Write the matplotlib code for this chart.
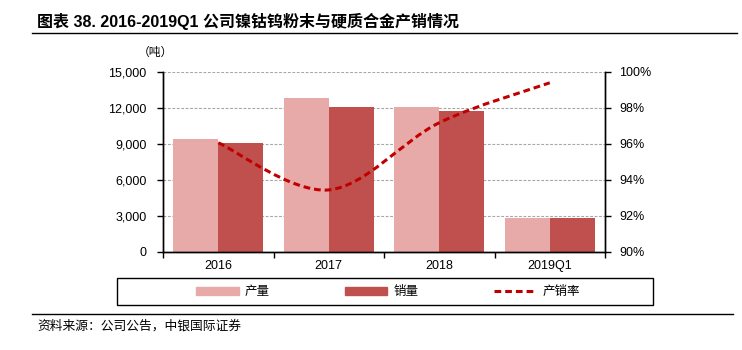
import matplotlib
matplotlib.use('Agg')
import matplotlib.pyplot as plt
import numpy as np
from matplotlib.path import Path
from matplotlib.patches import PathPatch, Rectangle, Patch
from matplotlib.lines import Line2D
from matplotlib.ticker import FuncFormatter, MultipleLocator

plt.rcParams['font.family'] = ['Liberation Sans', 'Noto Sans CJK SC', 'DejaVu Sans']

# data
categories = ['2016', '2017', '2018', '2019Q1']
production = [9450, 12850, 12050, 2850]   # 产量 (吨)
sales = [9050, 12050, 11750, 2840]        # 销量 (吨)
rate = [96.07, 93.45, 97.18, 99.40]       # 产销率 (%)

c_prod = '#E8AAA9'
c_sales = '#C0504D'
c_line = '#C00000'
cjk = ['Noto Sans CJK SC', 'DejaVu Sans']

W, H = 742, 350
fig = plt.figure(figsize=(W / 100, H / 100), dpi=100)
ax = fig.add_axes([163 / W, 1 - 252 / H, (605 - 163) / W, (252 - 72) / H])
ax2 = ax.twinx()

x = np.arange(len(categories))
bw = 0.405
ax.bar(x - bw / 2, production, bw, color=c_prod, zorder=2)
ax.bar(x + bw / 2, sales, bw, color=c_sales, zorder=2)

ax.set_xlim(-0.5, len(categories) - 0.5)
ax.set_ylim(0, 15000)
ax.yaxis.set_major_locator(MultipleLocator(3000))
ax.yaxis.set_major_formatter(FuncFormatter(lambda v, p: f'{v:,.0f}'))
ax.set_xticks(x)
ax.set_xticklabels(categories)
ax.set_xticks(np.arange(len(categories) + 1) - 0.5, minor=True)
ax.tick_params(axis='x', which='major', length=0, pad=6, labelsize=9)
ax.tick_params(axis='x', which='minor', length=4, direction='out', width=1)
ax.tick_params(axis='y', length=4, width=1, pad=8, labelsize=9)
for v in range(3000, 15001, 3000):
    ax.axhline(v, color='#A6A6A6', lw=0.8, ls=(0, (2.5, 1.5)), zorder=1)

# smoothed rate line (bezier through the points, like Excel smoothing)
ax2.set_ylim(90, 100)
ax2.yaxis.set_major_locator(MultipleLocator(2))
ax2.yaxis.set_major_formatter(FuncFormatter(lambda v, p: f'{v:.0f}%'))
ax2.tick_params(axis='y', length=4, width=1, pad=6, labelsize=9)
pts = np.column_stack([x, rate]).astype(float)
ext = np.vstack([pts[0], pts, pts[-1]])
verts = [tuple(pts[0])]
codes = [Path.MOVETO]
for i in range(len(pts) - 1):
    p0, p1, p2, p3 = ext[i], ext[i + 1], ext[i + 2], ext[i + 3]
    verts += [tuple(p1 + (p2 - p0) / 6), tuple(p2 - (p3 - p1) / 6), tuple(p2)]
    codes += [Path.CURVE4] * 3
ax2.add_patch(PathPatch(Path(verts, codes), fill=False, edgecolor=c_line,
                        lw=2.2, ls=(0, (2.2, 1.3)), zorder=3))

for a in (ax, ax2):
    a.spines['top'].set_visible(False)
    for s in ('left', 'right', 'bottom'):
        a.spines[s].set_linewidth(1)
        a.spines[s].set_color('black')

# unit label
fig.text(155 / W, 1 - 52 / H, '（吨）', family=cjk, fontsize=8.5, ha='center', va='center')

# title and rules
fig.text(37 / W, 1 - 21 / H, '图表 38. 2016-2019Q1 公司镍钴钨粉末与硬质合金产销情况',
         fontsize=11.5, fontweight='bold', ha='left', va='center')
fig.add_artist(Line2D([32 / W, 737 / W], [1 - 33 / H, 1 - 33 / H], color='black', lw=1))
fig.add_artist(Line2D([32 / W, 733 / W], [1 - 314 / H, 1 - 314 / H], color='black', lw=1))
fig.text(37 / W, 1 - 326 / H, '资料来源：公司公告，中银国际证券', family=cjk,
         fontsize=9.2, style='italic', ha='left', va='center')

# legend
fig.add_artist(Rectangle((117 / W, 1 - 305 / H), 536 / W, 27 / H, transform=fig.transFigure,
                         fill=False, edgecolor='black', lw=1))
handles = [Patch(color=c_prod), Patch(color=c_sales),
           Line2D([0], [0], color=c_line, lw=2.2, ls=(0, (2.2, 1.3)))]
fig.legend(handles, ['产量', '销量', '产销率'], loc='center', ncol=3,
           bbox_to_anchor=(388 / W, 1 - 291.5 / H), frameon=False,
           prop={'family': cjk, 'size': 9}, handlelength=3.4, handleheight=0.6,
           handletextpad=0.5, columnspacing=6.0, borderpad=0)

fig.savefig('out.png', dpi=100)
